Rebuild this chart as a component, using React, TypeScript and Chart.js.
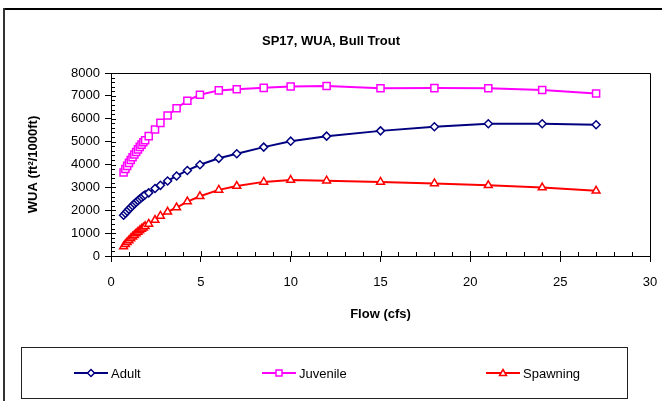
import React, { useEffect, useRef } from "react";
import { Chart, registerables } from "chart.js";

Chart.register(...registerables);

const chartTitle = "SP17, WUA, Bull Trout";
const xTitle = "Flow (cfs)";
const yTitle = "WUA (ft\u00b2/1000ft)";

const flows = [0.7, 0.8, 0.9, 1.0, 1.1, 1.2, 1.3, 1.4, 1.5, 1.6, 1.7, 1.8, 1.9, 2.1, 2.45, 2.75, 3.15, 3.65, 4.25, 4.95, 6, 7, 8.5, 10, 12, 15, 18, 21, 24, 27];
const adult = [1780, 1870, 1960, 2040, 2120, 2200, 2280, 2350, 2420, 2490, 2560, 2620, 2680, 2760, 2950, 3090, 3280, 3500, 3740, 3990, 4270, 4470, 4760, 5020, 5240, 5470, 5650, 5780, 5780, 5740];
const juvenile = [3650, 3800, 3940, 4070, 4200, 4320, 4440, 4550, 4660, 4770, 4870, 4970, 5060, 5240, 5530, 5820, 6140, 6460, 6790, 7050, 7240, 7290, 7350, 7410, 7430, 7330, 7340, 7330, 7260, 7100];
const spawning = [420, 510, 600, 680, 760, 840, 910, 980, 1050, 1120, 1180, 1240, 1300, 1400, 1570, 1750, 1930, 2120, 2380, 2610, 2890, 3060, 3240, 3320, 3290, 3240, 3170, 3090, 2990, 2850];

const seriesNames = ["Adult", "Juvenile", "Spawning"];
const seriesColors = ["#000080", "#FF00FF", "#FF0000"];
const seriesStyles = ["rectRot", "rect", "triangle"];

const FONT = "'Liberation Sans', Arial, Helvetica, sans-serif";

const decor = {
  id: "decor",
  beforeDraw(chart: any) {
    const { ctx, width, height } = chart;
    ctx.save();
    ctx.fillStyle = "#fff";
    ctx.fillRect(0, 0, width, height);
    ctx.restore();
  },
  afterDraw(chart: any) {
    const { ctx, chartArea: a, scales } = chart;
    const x = scales.x;
    const y = scales.y;
    ctx.save();
    ctx.strokeStyle = "#000";
    ctx.lineWidth = 1;
    ctx.beginPath();
    ctx.moveTo(a.left, Math.round(a.top) + 0.5);
    ctx.lineTo(Math.round(a.right) + 0.5, Math.round(a.top) + 0.5);
    ctx.lineTo(Math.round(a.right) + 0.5, a.bottom);
    ctx.stroke();
    // inward y ticks (minor every 200, major every 1000)
    ctx.beginPath();
    for (let v = 0; v <= 8000; v += 200) {
      const py = Math.round(y.getPixelForValue(v)) + 0.5;
      const len = v % 1000 === 0 ? 5 : 4;
      ctx.moveTo(a.left, py);
      ctx.lineTo(a.left + len, py);
    }
    for (let v = 0; v <= 30; v += 1) {
      const px = Math.round(x.getPixelForValue(v)) + 0.5;
      const len = v % 5 === 0 ? 5 : 4;
      ctx.moveTo(px, a.bottom);
      ctx.lineTo(px, a.bottom - len);
    }
    ctx.stroke();
    // outer frame (top & left edges)
    ctx.fillStyle = "#000";
    ctx.fillRect(3, 8, chart.width - 3, 2);
    ctx.fillStyle = "#333";
    ctx.fillRect(3, 8, 2, chart.height - 8);
    ctx.restore();
  },
};

function LegendIcon({ i }: { i: number }) {
  const c = seriesColors[i];
  let marker: any = null;
  if (i === 0) marker = <polygon points="17,1.5 20.5,5 17,8.5 13.5,5" fill="#fff" stroke={c} strokeWidth={1.5} />;
  if (i === 1) marker = <rect x={14} y={2} width={6} height={6} fill="#fff" stroke={c} strokeWidth={1.5} />;
  if (i === 2) marker = <polygon points="17,1.5 20.5,7.5 13.5,7.5" fill="#fff" stroke={c} strokeWidth={1.5} />;
  return (
    <svg width={34} height={10} style={{ display: "block" }}>
      <line x1={0} y1={5} x2={34} y2={5} stroke={c} strokeWidth={2} />
      {marker}
    </svg>
  );
}

const legendX = [74, 262, 486];

export default function App() {
  const ref = useRef<HTMLCanvasElement | null>(null);
  useEffect(() => {
    if (!ref.current) return;
    Chart.defaults.font.family = FONT;
    Chart.defaults.color = "#000";
    const dataSets = [adult, juvenile, spawning].map((vals, i) => ({
      label: seriesNames[i],
      data: flows.map((f, k) => ({ x: f, y: vals[k] })),
      borderColor: seriesColors[i],
      backgroundColor: "#fff",
      pointBackgroundColor: "#fff",
      pointBorderColor: seriesColors[i],
      pointStyle: seriesStyles[i] as any,
      pointRadius: i === 0 ? 4 : i === 1 ? 5 : 4.5,
      pointBorderWidth: 1.5,
      borderWidth: 2,
      tension: 0,
      fill: false,
    }));
    const chart = new Chart(ref.current, {
      type: "line",
      data: { datasets: dataSets as any },
      plugins: [decor],
      options: {
        animation: false,
        responsive: false,
        devicePixelRatio: 1,
        layout: { padding: { left: 0, right: 0, top: 0, bottom: 79.2 } },
        plugins: {
          legend: { display: false },
          tooltip: { enabled: false },
          title: {
            display: true,
            text: chartTitle,
            color: "#000",
            font: { family: FONT, size: 13, weight: "bold" },
            padding: { top: 33.2, bottom: 24.2 },
          },
        },
        scales: {
          x: {
            type: "linear",
            min: 0,
            max: 30,
            ticks: { stepSize: 5, color: "#000", font: { family: FONT, size: 13 }, padding: 13, maxRotation: 0, callback: (v: any) => String(v) },
            grid: { drawOnChartArea: false, drawTicks: true, tickLength: 6, color: "#000" },
            border: { display: true, color: "#000", width: 1 },
            title: {
              display: true,
              text: xTitle,
              color: "#000",
              font: { family: FONT, size: 13, weight: "bold" },
              padding: { top: 2.6, bottom: 0 },
            },
            afterFit: (scale: any) => {
              scale.paddingRight = 12;
            },
          },
          y: {
            type: "linear",
            min: 0,
            max: 8000,
            ticks: { stepSize: 1000, color: "#000", font: { family: FONT, size: 13 }, padding: 5, callback: (v: any) => String(v) },
            grid: { drawOnChartArea: false, drawTicks: true, tickLength: 6, color: "#000" },
            border: { display: true, color: "#000", width: 1 },
            title: {
              display: true,
              text: yTitle,
              color: "#000",
              font: { family: FONT, size: 13, weight: "bold" },
              padding: { top: 25.2, bottom: 0 },
            },
            afterFit: (scale: any) => {
              scale.width = 111;
            },
          },
        },
      },
    });
    return () => chart.destroy();
  }, []);

  return (
    <div style={{ position: "absolute", left: 0, top: 0, width: 662, height: 401, background: "#fff", overflow: "hidden" }}>
      <canvas ref={ref} width={662} height={401} style={{ position: "absolute", left: 0, top: 0, width: 662, height: 401 }} />
      <div
        style={{
          position: "absolute",
          left: 21,
          top: 347,
          width: 605,
          height: 50,
          border: "1px solid #222",
          boxSizing: "content-box",
        }}
      />
      {seriesNames.map((name, i) => (
        <div
          key={name}
          style={{
            position: "absolute",
            left: legendX[i],
            top: 364,
            height: 18,
            display: "flex",
            alignItems: "center",
            fontFamily: FONT,
            fontSize: 13,
            color: "#000",
            whiteSpace: "nowrap",
          }}
        >
          <LegendIcon i={i} />
          <span style={{ marginLeft: 3 }}>{name}</span>
        </div>
      ))}
    </div>
  );
}
